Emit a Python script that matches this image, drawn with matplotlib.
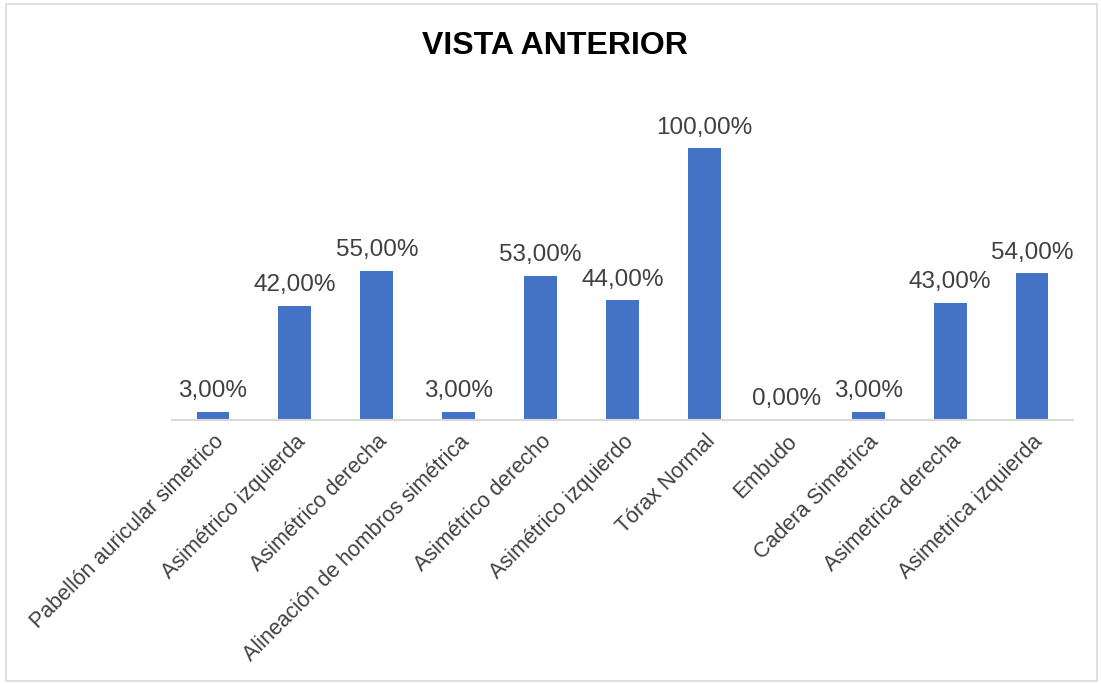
import matplotlib.pyplot as plt
from matplotlib.patches import Rectangle

plt.rcParams['font.family'] = ['Liberation Sans', 'DejaVu Sans']

categorias = ['Pabellón auricular simetrico', 'Asimétrico izquierda', 'Asimétrico derecha',
              'Alineación de hombros simétrica', 'Asimétrico derecho', 'Asimétrico izquierdo',
              'Tórax Normal', 'Embudo', 'Cadera Simetrica', 'Asimetrica derecha',
              'Asimetrica izquierda']
valores = [3, 42, 55, 3, 53, 44, 100, 0, 3, 43, 54]
etiquetas = ['3,00%', '42,00%', '55,00%', '3,00%', '53,00%', '44,00%', '100,00%',
             '0,00%', '3,00%', '43,00%', '54,00%']

fig = plt.figure(figsize=(11.01, 6.84), dpi=100)
ax = fig.add_axes([172 / 1101, 264 / 684, 901 / 1101, 326 / 684])

x = range(len(categorias))
barras = ax.bar(x, valores, width=0.4, color='#4472C4')
for b, t in zip(barras, etiquetas):
    ax.annotate(t, (b.get_x() + b.get_width() / 2, b.get_height()),
                xytext=(0, 7), textcoords='offset points',
                ha='center', va='bottom', fontsize=17.5, color='#404040')

ax.set_xlim(-0.5, len(categorias) - 0.5)
ax.set_ylim(0, 120)
ax.set_yticks([])
ax.set_xticks(list(x))
ax.set_xticklabels(categorias, rotation=45, ha='right', rotation_mode='anchor',
                   fontsize=15.5, color='#404040')
ax.tick_params(axis='x', length=0, pad=8)
for s in ['top', 'right', 'left']:
    ax.spines[s].set_visible(False)
ax.spines['bottom'].set_color('#D9D9D9')
ax.spines['bottom'].set_linewidth(1.5)

fig.text(555 / 1101, 1 - 46 / 684, 'VISTA ANTERIOR', ha='center', va='center',
         fontsize=23, fontweight='bold', color='black')

fig.patches.append(Rectangle((6 / 1101, 3 / 684), 1091 / 1101, 677 / 684,
                             transform=fig.transFigure, fill=False,
                             edgecolor='#D9D9D9', linewidth=1.2))

fig.savefig('out.png', dpi=100)
